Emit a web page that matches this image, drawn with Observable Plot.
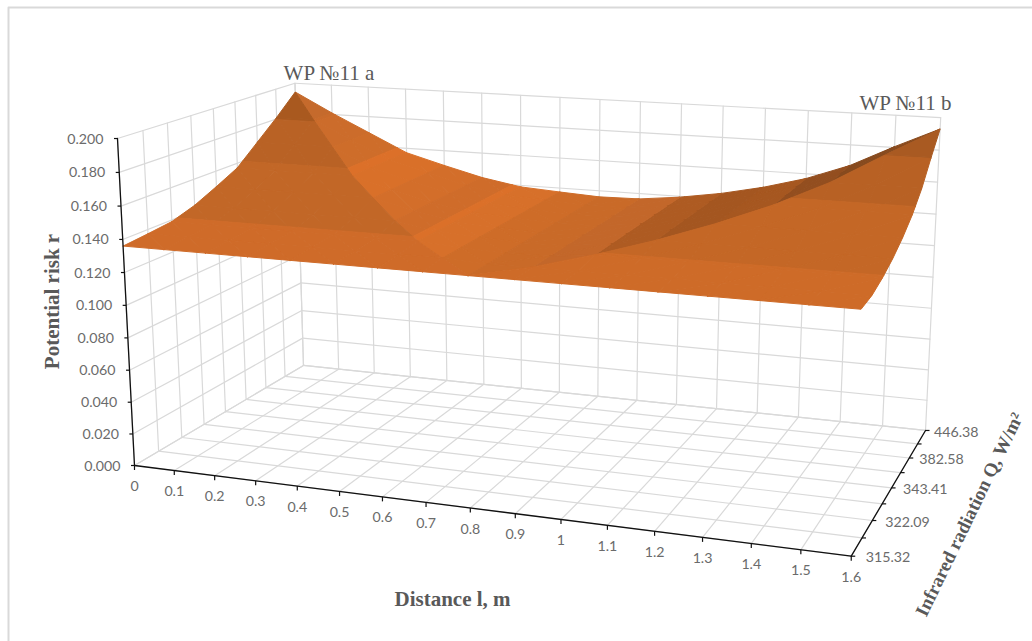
<!DOCTYPE html>
<html>
<head>
<meta charset="utf-8">
<style>html,body{margin:0;padding:0;background:#fff}svg{display:block}</style>
<script src="https://cdn.jsdelivr.net/npm/d3@7"></script>
<script src="https://cdn.jsdelivr.net/npm/@observablehq/plot@0.6"></script>
</head>
<body>
<script>
// ---- data ----
const distances = ["0","0.1","0.2","0.3","0.4","0.5","0.6","0.7","0.8","0.9","1","1.1","1.2","1.3","1.4","1.5","1.6"];
const radiationLabels = ["315.32","","322.09","","343.41","","382.58","","446.38"];
const riskTicks = [0,0.02,0.04,0.06,0.08,0.1,0.12,0.14,0.16,0.18,0.2];
const riskBands = [0.12,0.14,0.16,0.18,0.2];
const riskRows = [
 [.136,.136,.136,.136,.136,.136,.136,.136,.136,.136,.136,.136,.136,.136,.136,.136,.136],
 [.1374,.1374,.1374,.1374,.1374,.1374,.1374,.1374,.136,.1365,.1365,.1365,.1365,.1365,.1365,.1365,.1365],
 [.139,.139,.139,.139,.139,.139,.139,.1374,.136,.1365,.1395,.1395,.1395,.1395,.1395,.1395,.1395],
 [.1435,.1435,.1435,.1435,.1435,.1435,.139,.1374,.136,.1365,.1395,.1438,.1438,.1438,.1438,.1438,.1438],
 [.150,.150,.150,.150,.150,.1435,.139,.1374,.136,.1365,.1395,.1438,.1496,.1496,.1496,.1496,.1496],
 [.157,.157,.157,.157,.150,.1435,.139,.1374,.136,.1365,.1395,.1438,.1496,.157,.157,.157,.157],
 [.169,.169,.169,.157,.150,.1435,.139,.1374,.136,.1365,.1395,.1438,.1496,.157,.167,.167,.167],
 [.181,.181,.169,.157,.150,.1435,.139,.1374,.136,.1365,.1395,.1438,.1496,.157,.167,.1805,.1805],
 [.194,.181,.169,.157,.150,.1435,.139,.1374,.136,.1365,.1395,.1438,.1496,.157,.167,.1805,.193]
];
// ---- facet shades: by risk band (low to high) and by distance column ----
const leftShades  = ["#CF6B29","#C26727","#B96225","#A9591F"];
const rightShades = ["#CE6B28","#C46726","#B86124","#A95A22"];
const columnShades = ["#C56A2C","#CC6C2B","#CE6D2A","#D97029","#D36E2A","#CF6C2A","#D7702A","#CE6C28",
                      "#C96A28","#C3672A","#AE5B22","#A45620","#A65720","#934E1F","#874A1E","#8A4B1E"];
const stripeShades = {"1:3":"#C96B2B","2:1":"#DC7029","5:0":"#DB7029"};
// ---- view ----
const zMax = 0.2;
const camX = [616,219.4,-21.7,134], camY = [24.9,-39.3,-332.5,465], camW = [-.11841,.1664,-.04,1];
const nI = distances.length - 1, nJ = radiationLabels.length - 1;
const dot4 = (c,u,v,w) => c[0]*u + c[1]*v + c[2]*w + c[3];
function project(i, j, r) {
  const u = i/nI, v = j/nJ, w = r/zMax, d = dot4(camW,u,v,w);
  return {x: dot4(camX,u,v,w)/d, y: dot4(camY,u,v,w)/d, depth: d};
}
// grid lines on the floor and two walls
const gridLines = [];
const addLine = (a, b) => { const id = gridLines.length; gridLines.push({id, ...project(...a)}, {id, ...project(...b)}); };
distances.forEach((_, i) => { addLine([i,0,0],[i,nJ,0]); addLine([i,nJ,0],[i,nJ,zMax]); });
radiationLabels.forEach((_, j) => { addLine([0,j,0],[nI,j,0]); addLine([0,j,0],[0,j,zMax]); });
riskTicks.forEach(r => { addLine([0,0,r],[0,nJ,r]); addLine([0,nJ,r],[nI,nJ,r]); });

// surface: triangles cut at the band limits, painted back to front
function clip(poly, lo, hi) {
  const cut = (pts, inside, level) => {
    const out = [];
    pts.forEach((p, k) => {
      const q = pts[(k+1)%pts.length];
      if (inside(p)) out.push(p);
      if (inside(p) !== inside(q)) {
        const t = (level-p[2])/(q[2]-p[2]);
        out.push([p[0]+t*(q[0]-p[0]), p[1]+t*(q[1]-p[1]), level]);
      }
    });
    return out;
  };
  let r = cut(poly, p => p[2] >= lo, lo);
  if (r.length) r = cut(r, p => p[2] <= hi, hi);
  return r;
}
const vert = (i, j) => [i, j, riskRows[j][i]];
const facets = [];
for (let j = 0; j < nJ; j++) for (let i = 0; i < nI; i++) {
  const a = vert(i,j), b = vert(i+1,j), c = vert(i+1,j+1), e = vert(i,j+1);
  const tris = i < nI/2 ? [[a,b,e],[b,c,e]] : [[a,b,c],[a,c,e]];
  for (const tri of tris) {
    const isLeft = d3.max(tri, p => p[0]+p[1]) <= nI/2;
    const isRight = d3.min(tri, p => p[0]-p[1]) >= nI/2;
    for (let k = 0; k < riskBands.length-1; k++) {
      const poly = clip(tri, riskBands[k], riskBands[k+1]);
      if (poly.length < 3) continue;
      const color = isLeft ? leftShades[k] : isRight ? rightShades[k] : (stripeShades[i+":"+k] ?? columnShades[i]);
      const pts = poly.map(p => project(...p));
      facets.push({pts, color, depth: d3.mean(pts, p => p.depth)});
    }
  }
}
facets.sort((p, q) => q.depth - p.depth);
const surface = facets.flatMap((f, id) => [...f.pts, f.pts[0]].map(p => ({id, x: p.x, y: p.y, color: f.color})));

// axes
const axisLines = [
  {id:"z",...project(0,0,0)},{id:"z",...project(0,0,zMax)},
  {id:"x",...project(0,0,0)},{id:"x",...project(nI,0,0)},
  {id:"q",...project(nI,0,0)},{id:"q",...project(nI,nJ,0)}
];
const zTicks = riskTicks.map(r => ({r, ...project(0,0,r)}));
const xTicks = distances.map((label,i) => ({label, ...project(i,0,0)}));
const qTicks = radiationLabels.map((label,j) => ({label, j, ...project(nI,j,0)}));

const tickFont = {fontFamily:"Lato, Carlito, sans-serif", fontSize:14.2, fill:"#6b6b6b"};
const titleFont = {fontFamily:"'Liberation Serif', serif", fontWeight:"bold", fontSize:21, fill:"#595959"};
const noteFont = {fontFamily:"'Liberation Serif', serif", fontSize:21, fill:"#595959"};
const frame = [{id:0,x:8,y:641},{id:0,x:8,y:7},{id:0,x:1032,y:7}];

const chart = Plot.plot({
  width:1032, height:641, margin:0,
  x:{domain:[0,1032], range:[0,1032], axis:null},
  y:{domain:[0,641], range:[0,641], axis:null},
  color:{type:"identity"},
  style:{background:"#fff"},
  marks:[
    Plot.line(frame,{x:"x",y:"y",z:"id",stroke:"#D9D9D9",strokeWidth:2}),
    Plot.line(gridLines,{x:"x",y:"y",z:"id",stroke:"#D9D9D9",strokeWidth:1.2}),
    Plot.line(surface,{x:"x",y:"y",z:"id",fill:"color",stroke:"color",strokeWidth:1,strokeLinejoin:"round"}),
    Plot.line(axisLines,{x:"x",y:"y",z:"id",stroke:"#111",strokeWidth:1.3}),
    Plot.link(zTicks,{x1:"x",y1:"y",x2:d=>d.x-3.5,y2:"y",stroke:"#111",strokeWidth:1.2}),
    Plot.link(xTicks,{x1:"x",y1:"y",x2:"x",y2:d=>d.y+4.5,stroke:"#111",strokeWidth:1.2}),
    Plot.link(qTicks,{x1:"x",y1:"y",x2:d=>d.x+4,y2:"y",stroke:"#111",strokeWidth:1.2}),
    Plot.text(zTicks,{x:"x",y:"y",text:d=>d3.format(".3f")(d.r),textAnchor:"end",dx:-14,dy:0.5,...tickFont}),
    Plot.text(xTicks,{x:"x",y:"y",text:"label",dy:21,...tickFont}),
    Plot.text(qTicks,{x:d=>d.x+14.5-0.75*d.j,y:"y",text:"label",textAnchor:"start",dy:1.5,...tickFont}),
    Plot.text(["Potential risk r"],{x:[52],y:[301],text:d=>d,rotate:-90,...titleFont}),
    Plot.text(["Distance l, m"],{x:[452],y:[599],text:d=>d,...titleFont}),
    Plot.text(["Infrared radiation Q, W/m²"],{x:[969],y:[514],text:d=>d,rotate:-64.2,...titleFont,fontSize:19}),
    Plot.text(["WP №11 a"],{x:[328.5],y:[73],text:d=>d,...noteFont}),
    Plot.text(["WP №11 b"],{x:[905],y:[103],text:d=>d,...noteFont})
  ]
});
document.body.appendChild(chart);
</script>
</body>
</html>
